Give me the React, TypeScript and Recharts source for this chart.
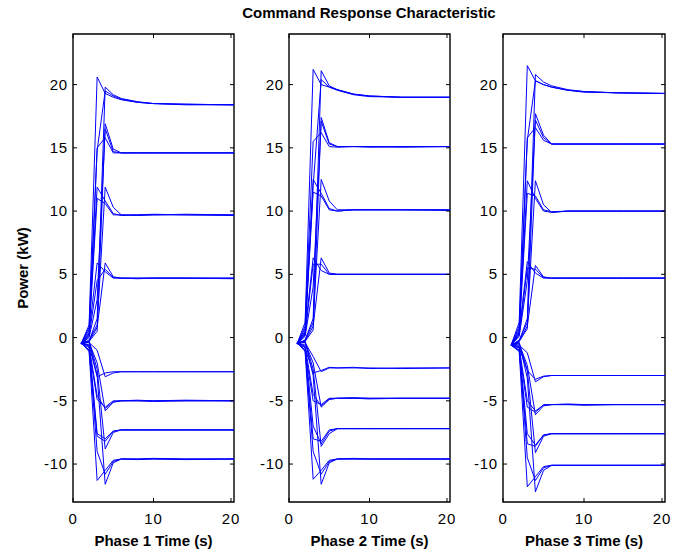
import { LineChart, Line, XAxis, YAxis, ReferenceArea } from "recharts"

// sample times (s) shared by every trace
const times = [1, 2, 3, 4, 5, 6, 8, 10, 14, 20]

const xTicks = [0, 10, 20]
const yTicks = [-10, -5, 0, 5, 10, 15, 20]

// phase 1 traces, power in kW at each sample time
const phase1 = [
	[-0.5, 1.0, 20.6, 19.3, 19.0, 18.8, 18.6, 18.5, 18.45, 18.4],
	[-0.5, -0.3, 1.5, 19.8, 19.2, 18.9, 18.65, 18.5, 18.45, 18.4],
	[-0.5, 0.2, 14.8, 19.5, 19.1, 18.85, 18.6, 18.5, 18.4, 18.4],
	[-0.5, 0.8, 15.0, 15.8, 14.6, 14.6, 14.6, 14.6, 14.6, 14.6],
	[-0.5, -0.3, 0.5, 16.9, 14.9, 14.6, 14.6, 14.6, 14.6, 14.6],
	[-0.5, 0.0, 3.0, 16.5, 14.7, 14.6, 14.6, 14.6, 14.6, 14.6],
	[-0.5, 0.6, 11.9, 10.8, 9.8, 9.65, 9.7, 9.75, 9.7, 9.7],
	[-0.5, -0.2, 1.0, 11.9, 10.3, 9.7, 9.65, 9.7, 9.7, 9.65],
	[-0.5, 0.3, 11.0, 10.6, 9.7, 9.7, 9.7, 9.7, 9.75, 9.7],
	[-0.5, 0.4, 5.9, 5.2, 4.7, 4.7, 4.7, 4.7, 4.7, 4.7],
	[-0.5, -0.3, 0.8, 5.9, 4.8, 4.7, 4.65, 4.7, 4.7, 4.7],
	[-0.5, 0.1, 4.5, 5.4, 4.75, 4.7, 4.7, 4.7, 4.7, 4.65],
	[-0.4, -0.6, -3.1, -2.8, -2.7, -2.7, -2.7, -2.7, -2.7, -2.7],
	[-0.4, -0.4, -1.0, -3.1, -2.8, -2.7, -2.7, -2.7, -2.7, -2.7],
	[-0.4, -1.0, -4.9, -5.5, -5.0, -5.0, -4.95, -5.0, -5.0, -5.0],
	[-0.4, -0.4, -2.0, -5.8, -5.1, -5.0, -5.0, -5.0, -4.95, -5.0],
	[-0.4, -0.7, -4.6, -5.6, -5.1, -5.0, -5.0, -5.05, -5.0, -5.0],
	[-0.4, -1.0, -7.8, -8.2, -7.4, -7.3, -7.3, -7.3, -7.3, -7.3],
	[-0.4, -0.3, -2.5, -8.8, -7.5, -7.3, -7.3, -7.3, -7.3, -7.3],
	[-0.4, -0.6, -7.6, -8.0, -7.4, -7.3, -7.3, -7.3, -7.3, -7.3],
	[-0.4, -1.1, -11.3, -10.5, -9.7, -9.6, -9.65, -9.6, -9.6, -9.6],
	[-0.4, -0.3, -3.0, -11.6, -9.9, -9.6, -9.6, -9.55, -9.6, -9.6],
	[-0.4, -0.8, -9.0, -10.8, -9.8, -9.6, -9.6, -9.6, -9.65, -9.6],
]

const phase2 = [
	[-0.5, 1.2, 21.2, 20.0, 19.8, 19.6, 19.25, 19.1, 19.0, 19.0],
	[-0.5, -0.2, 1.5, 21.1, 19.9, 19.6, 19.25, 19.1, 19.0, 19.0],
	[-0.5, 0.3, 12.0, 20.4, 19.8, 19.55, 19.2, 19.05, 19.0, 19.0],
	[-0.5, 0.9, 15.5, 16.2, 15.1, 15.05, 15.1, 15.1, 15.05, 15.1],
	[-0.5, -0.3, 0.6, 17.4, 15.4, 15.1, 15.1, 15.1, 15.1, 15.1],
	[-0.5, 0.1, 4.0, 17.1, 15.3, 15.1, 15.1, 15.05, 15.1, 15.1],
	[-0.5, 0.7, 12.5, 11.4, 10.2, 10.0, 10.1, 10.1, 10.1, 10.1],
	[-0.5, -0.2, 1.2, 12.5, 10.8, 10.1, 10.1, 10.1, 10.1, 10.05],
	[-0.5, 0.4, 11.5, 11.2, 10.1, 10.0, 10.1, 10.1, 10.1, 10.1],
	[-0.5, 0.5, 6.3, 5.3, 5.0, 5.0, 5.0, 5.0, 5.0, 5.0],
	[-0.5, -0.3, 0.9, 6.3, 5.1, 5.0, 5.0, 5.0, 5.0, 5.0],
	[-0.5, 0.2, 5.8, 5.8, 5.0, 5.0, 5.0, 5.0, 5.0, 5.0],
	[-0.4, -0.8, -2.8, -2.6, -2.35, -2.4, -2.35, -2.45, -2.4, -2.4],
	[-0.4, -0.4, -1.5, -2.7, -2.4, -2.4, -2.4, -2.4, -2.45, -2.4],
	[-0.4, -1.0, -5.0, -5.3, -4.8, -4.8, -4.8, -4.85, -4.8, -4.8],
	[-0.4, -0.4, -2.0, -5.5, -4.9, -4.8, -4.8, -4.8, -4.8, -4.8],
	[-0.4, -0.7, -4.5, -5.4, -4.85, -4.8, -4.75, -4.8, -4.8, -4.8],
	[-0.4, -1.0, -8.0, -8.2, -7.3, -7.2, -7.2, -7.2, -7.2, -7.2],
	[-0.4, -0.3, -2.5, -8.6, -7.6, -7.2, -7.2, -7.2, -7.2, -7.2],
	[-0.4, -0.6, -7.0, -8.4, -7.4, -7.2, -7.2, -7.2, -7.2, -7.2],
	[-0.4, -1.1, -11.2, -10.5, -9.7, -9.6, -9.6, -9.6, -9.6, -9.6],
	[-0.4, -0.3, -3.0, -11.6, -9.9, -9.6, -9.55, -9.6, -9.6, -9.6],
	[-0.4, -0.8, -9.0, -10.8, -9.8, -9.6, -9.6, -9.6, -9.6, -9.6],
]

const phase3 = [
	[-0.6, 1.2, 21.5, 20.3, 20.0, 19.8, 19.55, 19.45, 19.35, 19.3],
	[-0.6, -0.3, 1.5, 20.8, 20.2, 19.9, 19.6, 19.45, 19.35, 19.3],
	[-0.6, 0.3, 15.6, 20.3, 20.0, 19.8, 19.55, 19.4, 19.35, 19.3],
	[-0.6, 0.9, 15.8, 16.6, 15.6, 15.3, 15.3, 15.3, 15.3, 15.3],
	[-0.6, -0.3, 0.7, 17.7, 16.0, 15.3, 15.3, 15.3, 15.3, 15.3],
	[-0.6, 0.1, 4.5, 17.2, 15.8, 15.3, 15.3, 15.3, 15.3, 15.3],
	[-0.6, 0.7, 12.4, 11.0, 10.0, 9.9, 10.0, 10.0, 10.0, 10.0],
	[-0.6, -0.2, 1.2, 12.4, 10.5, 9.9, 10.0, 10.0, 10.0, 10.0],
	[-0.6, 0.4, 11.4, 11.2, 10.1, 9.95, 10.0, 10.0, 10.0, 10.0],
	[-0.6, 0.5, 6.0, 5.1, 4.7, 4.7, 4.7, 4.7, 4.7, 4.7],
	[-0.6, -0.3, 0.9, 5.7, 4.8, 4.7, 4.7, 4.7, 4.7, 4.7],
	[-0.6, 0.2, 5.5, 5.4, 4.75, 4.7, 4.7, 4.7, 4.7, 4.7],
	[-0.6, -0.6, -1.2, -3.5, -3.1, -3.0, -3.0, -3.0, -3.0, -3.0],
	[-0.6, -0.8, -2.6, -3.3, -3.05, -3.0, -3.0, -3.0, -3.0, -3.0],
	[-0.6, -1.0, -5.5, -5.9, -5.3, -5.3, -5.3, -5.35, -5.3, -5.3],
	[-0.6, -0.5, -2.2, -6.1, -5.4, -5.3, -5.3, -5.3, -5.3, -5.3],
	[-0.6, -0.8, -5.0, -5.8, -5.35, -5.3, -5.25, -5.3, -5.3, -5.3],
	[-0.6, -1.0, -8.4, -8.6, -7.7, -7.6, -7.6, -7.6, -7.6, -7.6],
	[-0.6, -0.4, -2.6, -9.1, -7.8, -7.6, -7.6, -7.6, -7.6, -7.6],
	[-0.6, -0.7, -7.6, -8.5, -7.7, -7.6, -7.6, -7.6, -7.6, -7.6],
	[-0.6, -1.1, -11.8, -11.0, -10.2, -10.1, -10.1, -10.1, -10.1, -10.1],
	[-0.6, -0.4, -3.2, -12.2, -10.5, -10.1, -10.1, -10.1, -10.1, -10.1],
	[-0.6, -0.8, -9.5, -11.3, -10.3, -10.1, -10.1, -10.1, -10.1, -10.1],
]

const font = "'Liberation Sans', Arial, sans-serif"
const AXIS_W = 40
const TOP = 34
const BOTTOM = 502
const H = 554

type PanelProps = {
	lines: number[][]
	left: number
	plotW: number
	label: string
}

function Panel({ lines, left, plotW, label }: PanelProps) {
	const pl = AXIS_W
	const pr = AXIS_W + plotW

	const YTick = (props: any) => {
		const { x, y, payload } = props
		return (
			<g>
				<text x={x + 1} y={y + 5} textAnchor="end" fontSize={15} letterSpacing={0.8} fontFamily={font} fill="#000">
					{payload.value}
				</text>
				<line x1={pl} x2={pl + 4} y1={y} y2={y} stroke="#000" />
				<line x1={pr} x2={pr - 4} y1={y} y2={y} stroke="#000" />
			</g>
		)
	}

	const XTick = (props: any) => {
		const { x, y, payload } = props
		return (
			<g>
				<text x={x} y={y + 16} textAnchor="middle" fontSize={15} letterSpacing={0.8} fontFamily={font} fill="#000">
					{payload.value}
				</text>
				<line x1={x} x2={x} y1={BOTTOM} y2={BOTTOM - 4} stroke="#000" />
				<line x1={x} x2={x} y1={TOP} y2={TOP + 4} stroke="#000" />
			</g>
		)
	}

	return (
		<div style={{ position: "absolute", left, top: 0 }}>
			<LineChart width={AXIS_W + plotW + 5} height={H} margin={{ top: TOP, right: 5, left: 0, bottom: 0 }}>
				<XAxis
					type="number"
					dataKey="t"
					domain={[0, 20]}
					ticks={xTicks}
					allowDataOverflow
					height={H - BOTTOM}
					axisLine={false}
					tickLine={false}
					tickSize={4}
					tickMargin={2}
					tick={XTick}
				/>
				<YAxis
					type="number"
					domain={[-13, 24]}
					ticks={yTicks}
					allowDataOverflow
					width={AXIS_W}
					axisLine={false}
					tickLine={false}
					tickSize={4}
					tickMargin={2}
					tick={YTick}
				/>
				{lines.map((vals, i) => (
					<Line
						key={i}
						data={times.map((t, j) => ({ t, v: vals[j] }))}
						dataKey="v"
						stroke="#0000ff"
						strokeWidth={1}
						dot={false}
						isAnimationActive={false}
					/>
				))}
				<ReferenceArea x1={0} x2={20} y1={-13} y2={24} fill="none" stroke="#000" strokeWidth={1.4} />
			</LineChart>
			<div
				style={{
					position: "absolute",
					left: AXIS_W - 10,
					width: plotW + 20,
					top: 532,
					textAlign: "center",
					fontFamily: font,
					fontWeight: "bold",
					fontSize: 15,
				}}
			>
				{label}
			</div>
		</div>
	)
}

export default function App() {
	return (
		<div style={{ position: "absolute", left: 0, top: 0, width: 677, height: H, background: "#fff" }}>
			<div
				style={{
					position: "absolute",
					left: 0,
					width: 738,
					top: 4,
					textAlign: "center",
					fontFamily: font,
					fontWeight: "bold",
					fontSize: 15,
				}}
			>
				Command Response Characteristic
			</div>
			<div
				style={{
					position: "absolute",
					left: 22,
					top: 268,
					transform: "translate(-50%, -50%) rotate(-90deg)",
					whiteSpace: "nowrap",
					fontFamily: font,
					fontWeight: "bold",
					fontSize: 15,
				}}
			>
				Power (kW)
			</div>
			<Panel lines={phase1} left={33} plotW={161} label="Phase 1 Time (s)" />
			<Panel lines={phase2} left={249} plotW={161} label="Phase 2 Time (s)" />
			<Panel lines={phase3} left={463} plotW={162} label="Phase 3 Time (s)" />
		</div>
	)
}
